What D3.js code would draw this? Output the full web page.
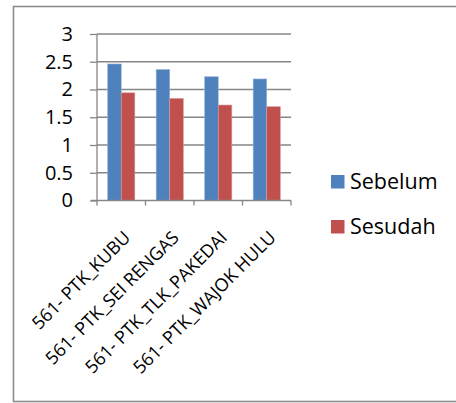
<!DOCTYPE html>
<html><head><meta charset="utf-8">
<script src="https://cdn.jsdelivr.net/npm/d3@7/dist/d3.min.js"></script>
<style>body{margin:0;background:#fff}svg{display:block}</style>
</head><body>
<svg id="c" width="456" height="403"></svg>
<script>
const categories = ["561- PTK_KUBU", "561- PTK_SEI RENGAS", "561- PTK_TLK_PAKEDAI", "561- PTK_WAJOK HULU"];
const sebelum = [2.46, 2.36, 2.23, 2.19];
const sesudah = [1.94, 1.84, 1.72, 1.69];
const seriesNames = ["Sebelum", "Sesudah"];
const seriesColors = ["#4F81BD", "#C0504D"];
const yTicks = [0, 0.5, 1, 1.5, 2, 2.5, 3];

const font = "'Open Sans', sans-serif";
const svg = d3.select("#c");
const gridC = "#868686";

// outer frame
svg.append("rect").attr("x", 13.5).attr("y", 6.5).attr("width", 460).attr("height", 395)
  .attr("fill", "none").attr("stroke", "#8c8c8c").attr("stroke-width", 1.6);

const x = d3.scaleBand().domain(categories).range([97, 291]).paddingInner(0.44).paddingOuter(0.22);
const y = d3.scaleLinear().domain([0, 3]).range([200.5, 34]);
const xs = d3.scaleBand().domain(seriesNames).range([0, x.bandwidth()]);

// gridlines
svg.append("g").selectAll("line").data(yTicks.filter(d => d > 0)).join("line")
  .attr("x1", 97).attr("x2", 291).attr("y1", d => y(d)).attr("y2", d => y(d))
  .attr("stroke", gridC).attr("stroke-width", 1.3);

// y axis
const yAxis = svg.append("g").attr("transform", "translate(97,0)")
  .call(d3.axisLeft(y).tickValues(yTicks).tickSize(7).tickPadding(17).tickFormat(d => String(d)));
yAxis.selectAll("line,path").attr("stroke", gridC).attr("stroke-width", 1.3);
yAxis.select("path").attr("d", `M0,${y(3)}V${y(0)}`);
yAxis.selectAll("text").attr("font-family", font).attr("font-size", 20).attr("fill", "#000");

// bars
const data = [sebelum, sesudah];
const gs = svg.append("g").selectAll("g").data(seriesNames).join("g");
gs.each(function(name, si) {
  d3.select(this).selectAll("rect").data(categories).join("rect")
    .attr("x", (c) => x(c) + xs(name))
    .attr("width", xs.bandwidth())
    .attr("y", (c, i) => y(data[si][i]))
    .attr("height", (c, i) => y(0) - y(data[si][i]))
    .attr("fill", seriesColors[si])
    .attr("stroke", si === 0 ? "#9cb5d6" : "#d99a98").attr("stroke-width", 0.6);
});

// x axis
const xAxis = svg.append("g").attr("transform", `translate(0,${y(0)})`)
  .call(d3.axisBottom(x).tickValues([]).tickSizeOuter(0));
xAxis.select("path").attr("d", "M91,0H291").attr("stroke", gridC).attr("stroke-width", 1.3);
const bounds = [97].concat(categories.map((c, i) => 97 + (i + 1) * (194 / categories.length)));
xAxis.selectAll("line.tk").data(bounds).join("line").attr("class", "tk")
  .attr("x1", d => d).attr("x2", d => d).attr("y1", 0).attr("y2", 5)
  .attr("stroke", gridC).attr("stroke-width", 1.3);

// x labels
svg.append("g").selectAll("text").data(categories).join("text")
  .attr("transform", c => `translate(${x(c) + x.bandwidth() / 2 + 1},${y(0) + 29}) rotate(-45)`)
  .attr("text-anchor", "end").attr("dy", "0.72em")
  .attr("font-family", font).attr("font-size", 18).attr("fill", "#000")
  .text(c => c);

// legend
const leg = svg.append("g").selectAll("g").data(seriesNames).join("g")
  .attr("transform", (d, i) => `translate(331,${175 + i * 45})`);
leg.append("rect").attr("width", 13.5).attr("height", 13.5).attr("fill", (d, i) => seriesColors[i]);
leg.append("text").attr("x", 19).attr("y", 14).attr("font-family", font).attr("font-size", 21.5)
  .attr("fill", "#000").text(d => d);
</script>
</body></html>
